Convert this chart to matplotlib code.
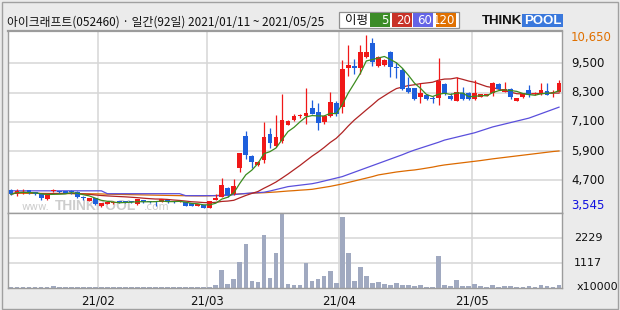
import matplotlib
matplotlib.use("Agg")
import matplotlib.pyplot as plt
from matplotlib.patches import Rectangle
import numpy as np
import pandas as pd

# 92 trading days, 2021/01/11 ~ 2021/05/25
opens = [4300, 4150, 4165, 4300, 4205, 4125, 3920, 4250, 4260, 4260,
         4215, 4235, 4000, 3850, 3960, 3632, 3740, 3755, 3850, 3820,
         3820, 3714, 3890, 3850, 3840, 3796, 3890, 3850, 3796, 3796,
         3770, 3659, 3690, 3580, 3893, 4030, 4399, 4125, 5219, 6504,
         5698, 5329, 5547, 6586, 6108, 6313, 6969, 7160, 7325, 7338,
         7653, 7516, 7106, 7338, 7885, 7707, 9293, 9389, 9320, 9758,
         10332, 9375, 9430, 9976, 9362, 9225, 8473, 8473, 8131, 8200,
         8063, 8063, 8651, 8159, 7967, 8295, 8295, 8022, 8131, 8159,
         8268, 8651, 8336, 8432, 7953, 8104, 8405, 8227, 8227, 8364,
         8268, 8336]
highs = [4330, 4343, 4340, 4310, 4220, 4125, 4125, 4343, 4280, 4270,
         4290, 4260, 4070, 3980, 3970, 3770, 3810, 3830, 3860, 3840,
         3830, 3930, 3900, 3860, 3870, 3930, 3900, 3860, 3860, 3800,
         3780, 3730, 3700, 3860, 4126, 4809, 4420, 4741, 5830, 6723,
         5720, 5480, 7106, 6832, 7379, 8227, 7160, 7434, 7440, 8500,
         7994, 7885, 7380, 8323, 7950, 9621, 10250, 9680, 10250, 10650,
         10551, 9800, 9680, 10020, 9567, 9300, 8951, 8500, 8678, 8230,
         8160, 9700, 8700, 8270, 8951, 8541, 8320, 8815, 8260, 8260,
         8720, 8680, 8746, 8470, 8080, 8290, 8610, 8310, 8705, 8678,
         8420, 8815]
lows = [4110, 4070, 4150, 4150, 4110, 3905, 3905, 4210, 4190, 4170,
        4150, 3990, 3905, 3840, 3700, 3620, 3730, 3740, 3780, 3780,
        3780, 3700, 3780, 3780, 3659, 3790, 3780, 3760, 3790, 3640,
        3640, 3650, 3545, 3570, 3880, 4000, 4020, 4100, 5055, 5561,
        5219, 5300, 5424, 6040, 6080, 6250, 6950, 7140, 7260, 7024,
        7400, 6778, 6990, 7300, 7330, 7475, 8979, 9047, 9047, 9700,
        9389, 9350, 9400, 8951, 8883, 8400, 8268, 8000, 7858, 8000,
        7858, 7790, 8200, 8000, 7950, 8000, 7990, 8000, 8100, 8140,
        8159, 8420, 8320, 8020, 7940, 8090, 8130, 8210, 8210, 8180,
        8100, 8320]
closes = [4125, 4260, 4235, 4165, 4125, 3960, 4100, 4265, 4205, 4180,
          4200, 4000, 3960, 3960, 3715, 3755, 3796, 3823, 3796, 3790,
          3790, 3919, 3796, 3796, 3820, 3919, 3796, 3796, 3850, 3659,
          3659, 3714, 3580, 3850, 3989, 4508, 4098, 4467, 5821, 5739,
          5465, 5452, 6477, 6244, 6477, 7160, 7133, 7352, 7380, 7475,
          7434, 7065, 7338, 7926, 7407, 9279, 9443, 9320, 9976, 9963,
          9566, 9758, 9635, 9362, 9293, 8432, 8309, 8036, 8295, 8022,
          8022, 8774, 8241, 8049, 8309, 8022, 8049, 8268, 8241, 8241,
          8705, 8432, 8432, 8104, 8063, 8268, 8213, 8295, 8405, 8200,
          8295, 8705]
# volume, x10000 shares
volumes = [50, 45, 50, 50, 45, 55, 50, 110, 50, 45,
           50, 50, 45, 50, 55, 50, 45, 50, 50, 45,
           50, 50, 45, 50, 50, 45, 50, 50, 50, 45,
           50, 50, 55, 50, 150, 818, 196, 418, 1175, 1976,
           329, 285, 2376, 463, 1575, 3300, 160, 150, 150, 1100,
           300, 418, 552, 774, 240, 3146, 1545, 300, 952, 552,
           240, 285, 196, 150, 240, 150, 150, 107, 150, 60,
           60, 1411, 150, 107, 374, 107, 107, 196, 107, 60,
           150, 60, 107, 107, 60, 60, 107, 60, 150, 107,
           60, 150]
# long moving averages (history before the window is not shown)
ma60 = [4268] * 16 + [4150] * 13 + [4070] * 7 + [
    4080, 4110, 4140, 4160, 4180, 4195, 4210, 4260, 4320, 4380,
    4440, 4470, 4500, 4530, 4560, 4610, 4670, 4730, 4790, 4850,
    4940, 5030, 5120, 5210, 5300, 5390, 5480, 5570, 5660, 5750,
    5850, 5940, 6020, 6100, 6180, 6260, 6350, 6410, 6470, 6530,
    6590, 6650, 6730, 6810, 6890, 6950, 7010, 7070, 7130, 7190,
    7250, 7340, 7430, 7520, 7610, 7700]
ma120 = [4170, 4168, 4166, 4165, 4163, 4162, 4160, 4158, 4156, 4155,
         4153, 4150, 4148, 4146, 4144, 4140, 4130, 4125, 4120, 4115,
         4110, 4105, 4100, 4095, 4090, 4085, 4080, 4075, 4070, 4066,
         4062, 4060, 4060, 4065, 4075, 4090, 4105, 4125, 4140, 4155,
         4170, 4180, 4190, 4205, 4220, 4240, 4260, 4275, 4295, 4310,
         4330, 4370, 4410, 4450, 4500, 4550, 4610, 4670, 4730, 4790,
         4850, 4920, 4960, 5000, 5040, 5070, 5100, 5124, 5160, 5200,
         5240, 5290, 5330, 5360, 5390, 5420, 5450, 5480, 5510, 5545,
         5580, 5610, 5640, 5670, 5700, 5730, 5760, 5790, 5820, 5850,
         5880, 5903]

month_idx = [15, 33, 55, 77]
month_labels = ["21/02", "21/03", "21/04", "21/05"]
price_ticks = [9500, 8300, 7100, 5900, 4700]
vol_ticks = [1117, 2229]
hi_label, lo_label = "10,650", "3,545"
title = "아이크래프트(052460) · 일간(92일) 2021/01/11 ~ 2021/05/25"

W, H = 620, 310
KR = ["Noto Sans CJK KR", "DejaVu Sans"]


def fx(x):
    return x / W


def fy(y):
    return 1 - y / H


df = pd.DataFrame({"o": opens, "h": highs, "l": lows, "c": closes, "v": volumes})
df["ma5"] = df["c"].rolling(5, min_periods=1).mean()
df["ma20"] = df["c"].rolling(20, min_periods=1).mean()
df["ma60"] = ma60
df["ma120"] = ma120
idx = np.arange(len(df))

fig = plt.figure(figsize=(6.2, 3.1), dpi=100)
fig.patch.set_facecolor("#ebebeb")

ax = fig.add_axes([fx(8), fy(213), fx(554), 182 / H])
axv = fig.add_axes([fx(8), fy(288), fx(554), 75 / H])

grid = "#d6d6d6"
frame = "#9c9c9c"
for a in (ax, axv):
    a.set_facecolor("white")
    a.set_xlim(-0.5, len(df) - 0.5)
    a.set_xticks([])
    a.set_yticks([])
    for s in a.spines.values():
        s.set_color(frame)
        s.set_linewidth(1.0)
    for m in month_idx:
        a.axvline(m - 0.5, color=grid, lw=1.1, zorder=0)

ax.spines["top"].set_linewidth(1.6)
ax.set_ylim(3358, 10825)
axv.set_ylim(0, 3345)
for p in price_ticks:
    ax.axhline(p, color=grid, lw=1.1, zorder=0)
for v in vol_ticks:
    axv.axhline(v, color=grid, lw=1.1, zorder=0)

# watermark
wm = "#cdcdcd"
ax.text(1.8, 3480, "www.", color=wm, fontsize=7.5, zorder=1, va="baseline")
ax.text(7.3, 3480, "THINKPOOL", color=wm, fontsize=10, fontweight="bold",
        family="Liberation Sans", zorder=1, va="baseline")
ax.text(22.0, 3480, ".com", color=wm, fontsize=7.5, zorder=1, va="baseline")

# moving averages
ax.plot(idx, df["ma120"], color="#dc6a00", lw=0.9, zorder=2)
ax.plot(idx, df["ma60"], color="#5a4fdc", lw=0.9, zorder=2)
ax.plot(idx, df["ma20"], color="#b02424", lw=0.9, zorder=2)

# candles
up = df["c"] >= df["o"]
colors = np.where(up, "#f01818", "#1e5fdc")
body_lo = np.minimum(df["o"], df["c"])
body_h = np.maximum(np.abs(df["c"] - df["o"]), 45)
ax.vlines(idx, df["l"], df["h"], colors=colors, lw=0.9, zorder=3)
ax.bar(idx, body_h, bottom=body_lo, width=0.8, color=colors, lw=0, zorder=3)
ax.plot(idx, df["ma5"], color="#3c8c1e", lw=0.9, zorder=4)

# volume
axv.bar(idx, df["v"], width=0.78, color="#a0a9c0", lw=0, zorder=2)

# right-hand labels
lx = fx(571)
for p in price_ticks:
    y = ax.transData.transform((0, p))[1] / fig.bbox.height
    fig.text(lx, y, f"{p:,}", fontsize=8.5, color="#111111", va="center", ha="left")
fig.text(lx, fy(37), hi_label, fontsize=8.5, color="#e07000", va="center", ha="left")
fig.text(lx, fy(206), lo_label, fontsize=8.5, color="#1010e0", va="center", ha="left")
for v in vol_ticks:
    y = axv.transData.transform((0, v))[1] / fig.bbox.height
    fig.text(fx(574), y, str(v), fontsize=8, color="#111111", va="center", ha="left")
fig.text(fx(577), fy(287), "x10000", fontsize=8, color="#111111", va="center", ha="left")

# month labels
for m, lab in zip(month_idx, month_labels):
    x = ax.transData.transform((m - 0.5, 0))[0] / fig.bbox.width
    fig.text(x, fy(301), lab, fontsize=8.5, color="#111111", va="center", ha="center")

# title
fig.text(fx(7), fy(22.5), title, fontsize=8.5, family=KR, color="#111111", va="center", ha="left")

# legend box
fig.patches.append(Rectangle((fx(339), fy(28)), fx(120), 16 / H, transform=fig.transFigure,
                             facecolor="white", edgecolor="#909090", lw=0.9))
fig.text(fx(345), fy(20.5), "이평", fontsize=9, family=KR, color="#111111", va="center", ha="left")
legend_items = [("5", "#3c8c28", 370), ("20", "#c83228", 392), ("60", "#6464e6", 413),
                ("120", "#e07000", 436)]
for lab, col, x0 in legend_items:
    fig.patches.append(Rectangle((fx(x0), fy(27)), fx(20), 13.5 / H, transform=fig.transFigure,
                                 facecolor=col, edgecolor="none"))
    fig.text(fx(x0 + 19), fy(20.5), lab, fontsize=8.5, color="white", va="center", ha="right")

# logo
fig.text(fx(482), fy(20.5), "THINK", fontsize=9.5, fontweight="bold", family="Liberation Sans",
         color="#111111", va="center", ha="left")
fig.patches.append(Rectangle((fx(522), fy(27)), fx(41), 13 / H, transform=fig.transFigure,
                             facecolor="#3a78dc", edgecolor="none"))
fig.text(fx(542.5), fy(20.5), "POOL", fontsize=9.5, fontweight="bold", family="Liberation Sans",
         color="white", va="center", ha="center")

# outer frame
fig.patches.append(Rectangle((fx(1.5), fy(308.5)), fx(616), 307 / H, transform=fig.transFigure,
                             facecolor="none", edgecolor="#a0a0a0", lw=1.0))

fig.savefig("out.png", dpi=100, facecolor=fig.get_facecolor())
